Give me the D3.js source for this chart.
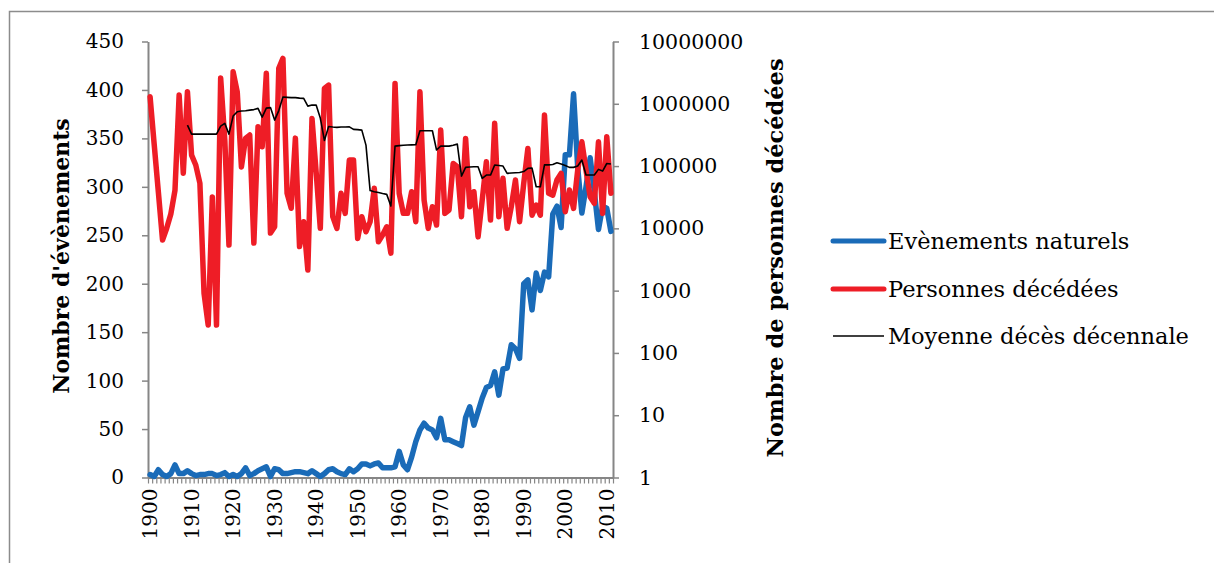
<!DOCTYPE html>
<html><head><meta charset="utf-8">
<script src="https://cdn.jsdelivr.net/npm/d3@7"></script>
<style>
body{margin:0;background:#fff}
svg{display:block}
text{font-family:"DejaVu Serif",serif;fill:#000}
</style>
</head><body>
<svg id="chart" width="1214" height="563"></svg>
<script>
const years = [1900,1901,1902,1903,1904,1905,1906,1907,1908,1909,1910,1911,1912,1913,1914,1915,1916,1917,1918,1919,
1920,1921,1922,1923,1924,1925,1926,1927,1928,1929,1930,1931,1932,1933,1934,1935,1936,1937,1938,1939,
1940,1941,1942,1943,1944,1945,1946,1947,1948,1949,1950,1951,1952,1953,1954,1955,1956,1957,1958,1959,
1960,1961,1962,1963,1964,1965,1966,1967,1968,1969,1970,1971,1972,1973,1974,1975,1976,1977,1978,1979,
1980,1981,1982,1983,1984,1985,1986,1987,1988,1989,1990,1991,1992,1993,1994,1995,1996,1997,1998,1999,
2000,2001,2002,2003,2004,2005,2006,2007,2008,2009,2010,2011];

const events = [3,1,8,3,1,4,13,4,4,7, 4,2,3,3,4,4,2,3,5,1, 3,1,4,10,2,4,7,9,11,1,
9,8,4,4,5,6,6,5,4,7, 4,1,4,8,9,6,4,3,9,6, 9,14,14,12,14,15,10,10,10,11,
27,13,8,21,37,49,56,51,49,41, 61,39,39,37,35,33,62,73,54,68, 82,93,95,109,85,112,113,137,133,123,
200,204,173,211,193,212,207,272,280,258, 333,333,396,320,273,300,330,295,256,280, 278,254];

const deaths = [1300000,220000,38000,6500,10000,17000,41000,1380000,77000,1560000,
150000,104000,53000,900,280,32000,280,2600000,260000,5400,
3260000,1540000,97000,278000,315000,5800,427000,204000,3080000,8400,
10600,3700000,5350000,36500,21000,281000,5100,12800,2140,583000,
80000,10000,1770000,2000000,15400,10000,36500,17400,125000,125000,
6900,15400,8800,12800,44000,6100,7800,10600,4000,2120000,
36500,17400,17400,38700,12800,1560000,28500,10000,22200,11300,
378000,17400,19700,110000,97500,15400,278000,22200,38700,7300,
28500,117000,13600,485000,15400,63500,10000,22200,59600,12800,
52700,192000,16300,23700,16300,659000,36500,34200,59600,76300,
18500,41200,20900,86300,245000,86300,32200,25200,245000,17400,
295000,36500];

const decadeAvg = [null,null,null,null,null,null,null,null,null,455000,
326000,326000,326000,326000,326000,326000,326000,438000,485000,326000,
635000,745000,764000,772000,792000,807000,844000,612000,853000,869000,
547000,778000,1282000,1268000,1257000,1257000,1234000,1220000,918000,953000,
953000,589000,257000,431000,423000,418000,423000,423000,427000,388000,
385000,378000,217000,40400,38700,37600,36200,35100,22800,209000,
213000,216000,218000,219000,220000,369000,369000,369000,369000,181000,
209000,209000,209000,216000,225000,69100,95300,96400,97500,97500,
63500,71700,71700,104000,102000,100000,76300,77200,78000,78700,
81600,91800,92900,46500,46500,104500,104500,106000,113000,108000,
102000,95300,95300,100000,125000,71700,71700,71700,88500,83100,
110000,108000];

const leftTicks = [0,50,100,150,200,250,300,350,400,450];
const rightTicks = [1,10,100,1000,10000,100000,1000000,10000000];
const xTickLabels = [1900,1910,1920,1930,1940,1950,1960,1970,1980,1990,2000,2010];
const seriesNames = ["Evènements naturels","Personnes décédées","Moyenne décès décennale"];
const leftTitle = "Nombre d'évènements";
const rightTitle = "Nombre de personnes décédées";

const colors = {events:"#1a6bb8", deaths:"#ee1d26", avg:"#000000", axis:"#868686"};
const P = {left:148, right:613, top:41.5, bottom:477.5};

const svg = d3.select("#chart");

// outer frame
svg.append("rect").attr("x",9.5).attr("y",11.5).attr("width",1300).attr("height",700)
  .attr("fill","none").attr("stroke","#8c8c8c").attr("stroke-width",1.5);

const x = d3.scaleBand().domain(years).range([P.left,P.right]);
const xEdge = d3.scaleLinear().domain([0,years.length]).range([P.left,P.right]);
const yL = d3.scaleLinear().domain([0,450]).range([P.bottom,P.top]);
const yR = d3.scaleLog().domain([1,10000000]).range([P.bottom,P.top]);

const cx = d => x(d) + x.bandwidth()/2;

function styleAxis(g){
  g.select(".domain").attr("stroke",colors.axis).attr("stroke-width",2);
  g.selectAll(".tick line").attr("stroke",colors.axis).attr("stroke-width",1.5);
}

// left axis
const gL = svg.append("g").attr("transform",`translate(${P.left},0)`)
  .call(d3.axisLeft(yL).tickValues(leftTicks).tickSize(6).tickPadding(18).tickSizeOuter(0));
styleAxis(gL);
gL.selectAll(".tick text").attr("font-size",20).attr("font-family","DejaVu Serif");

// right axis
const gR = svg.append("g").attr("transform",`translate(${P.right},0)`)
  .call(d3.axisRight(yR).tickValues(rightTicks).tickFormat(d3.format("d")).tickSize(6).tickPadding(20).tickSizeOuter(0));
styleAxis(gR);
gR.selectAll(".tick text").attr("font-size",20.5).attr("font-family","DejaVu Serif");

// bottom axis: tick marks at category edges
const gB = svg.append("g").attr("transform",`translate(0,${P.bottom})`)
  .call(d3.axisBottom(xEdge).tickValues(d3.range(0,years.length+1)).tickFormat("").tickSize(6).tickSizeOuter(0));
styleAxis(gB);
gB.selectAll(".tick line").attr("stroke-width",1.2);

// bottom labels
const gBL = svg.append("g").attr("transform",`translate(0,${P.bottom})`)
  .call(d3.axisBottom(x).tickValues(xTickLabels).tickSize(0).tickPadding(0));
gBL.select(".domain").remove();
gBL.selectAll(".tick text")
  .attr("font-size",20).attr("font-family","DejaVu Serif")
  .attr("transform","rotate(-90)")
  .attr("text-anchor","end")
  .attr("x",-11).attr("y",0).attr("dy","0.35em");

// lines
const lineL = d3.line().x((d,i)=>cx(years[i])).y(d=>yL(d));
const lineR = d3.line().defined(d=>d!=null).x((d,i)=>cx(years[i])).y(d=>yR(d));

svg.append("path").datum(events).attr("d",lineL)
  .attr("fill","none").attr("stroke",colors.events).attr("stroke-width",5.5)
  .attr("stroke-linejoin","round").attr("stroke-linecap","round");
svg.append("path").datum(deaths).attr("d",lineR)
  .attr("fill","none").attr("stroke",colors.deaths).attr("stroke-width",5.5)
  .attr("stroke-linejoin","round").attr("stroke-linecap","round");
svg.append("path").datum(decadeAvg).attr("d",lineR)
  .attr("fill","none").attr("stroke",colors.avg).attr("stroke-width",1.6)
  .attr("stroke-linejoin","round");

// axis titles
svg.append("text").attr("transform","translate(61,256) rotate(-90)")
  .attr("text-anchor","middle").attr("dy","0.35em")
  .attr("font-size",22).attr("font-weight","bold").text(leftTitle);
svg.append("text").attr("transform","translate(775,258) rotate(-90)")
  .attr("text-anchor","middle").attr("dy","0.35em")
  .attr("font-size",22.5).attr("font-weight","bold").text(rightTitle);

// legend
const legY = [241,289,336];
const legStyle = [{c:colors.events,w:5},{c:colors.deaths,w:5},{c:colors.avg,w:1.6}];
const leg = svg.append("g");
seriesNames.forEach((name,i)=>{
  leg.append("line").attr("x1",833).attr("x2",884).attr("y1",legY[i]).attr("y2",legY[i])
    .attr("stroke",legStyle[i].c).attr("stroke-width",legStyle[i].w).attr("stroke-linecap",i<2?"round":"butt");
  leg.append("text").attr("x",888).attr("y",legY[i]).attr("dy","0.35em")
    .attr("font-size",22.5).text(name);
});
</script>
</body></html>
